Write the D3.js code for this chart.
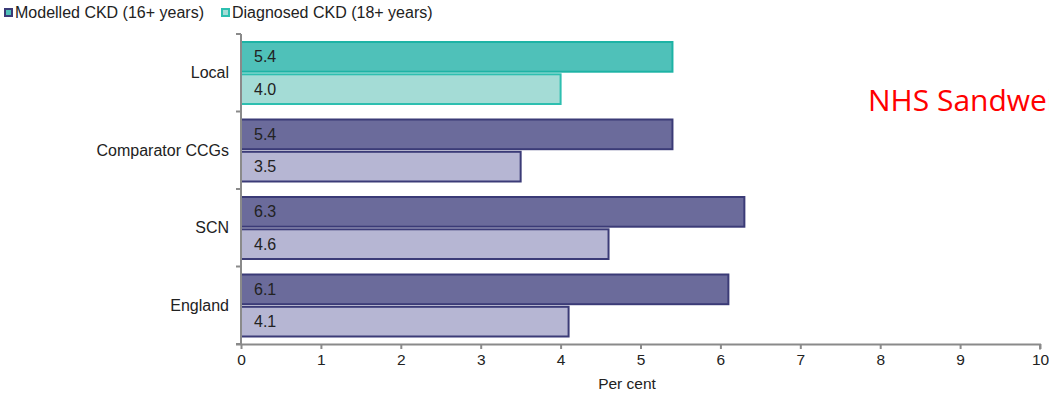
<!DOCTYPE html>
<html>
<head>
<meta charset="utf-8">
<script src="https://cdn.jsdelivr.net/npm/d3@7"></script>
<style>
  html, body { margin: 0; padding: 0; background: #fff; overflow: hidden; }
  svg { display: block; font-family: "Liberation Sans", Arial, sans-serif; }
</style>
</head>
<body>
<svg id="chart" width="1049" height="396"></svg>
<script>
// Areas shown on the chart, top to bottom
const categories = ["Local", "Comparator CCGs", "SCN", "England"];
// Modelled CKD prevalence, people aged 16+ (per cent)
const modelled = [5.4, 5.4, 6.3, 6.1];
// Diagnosed CKD prevalence (QOF register), people aged 18+ (per cent)
const diagnosed = [4.0, 3.5, 4.6, 4.1];
const seriesNames = ["Modelled CKD (16+ years)", "Diagnosed CKD (18+ years)"];
const xTicks = [0, 1, 2, 3, 4, 5, 6, 7, 8, 9, 10];
const orgName = "NHS Sandwell and West Birmingham";

const svg = d3.select("#chart");
const margin = { left: 241, right: 9, top: 34, bottom: 52 };
const W = 1049, H = 396;

const x = d3.scaleLinear().domain([0, 10]).range([margin.left, W - margin.right]);
const y = d3.scaleBand().domain(categories).range([margin.top, H - margin.bottom]);
const inner = d3.scaleBand().domain([0, 1]).range([8, y.bandwidth() - 7.5]).paddingInner(0.08);

// Fill/stroke per series; the local area is highlighted in teal
const style = (cat, s) => {
  if (cat === "Local") {
    return s === 0 ? { fill: "#4fc1b9", stroke: "#1db3a5" } : { fill: "#a4dcd6", stroke: "#2dbfb0" };
  }
  return s === 0 ? { fill: "#6b6b9b", stroke: "#3b3b77" } : { fill: "#b6b6d3", stroke: "#3b3b77" };
};

const rows = [];
categories.forEach((c, i) => {
  rows.push({ cat: c, s: 0, v: modelled[i] });
  rows.push({ cat: c, s: 1, v: diagnosed[i] });
});

const g = svg.append("g");

g.selectAll("rect.bar").data(rows).join("rect")
  .attr("class", "bar")
  .attr("x", x(0))
  .attr("y", d => y(d.cat) + inner(d.s))
  .attr("width", d => x(d.v) - x(0))
  .attr("height", inner.bandwidth())
  .attr("fill", d => style(d.cat, d.s).fill)
  .attr("stroke", d => style(d.cat, d.s).stroke)
  .attr("stroke-width", 2);

g.selectAll("text.val").data(rows).join("text")
  .attr("class", "val")
  .attr("x", x(0) + 13)
  .attr("y", d => y(d.cat) + inner(d.s) + inner.bandwidth() / 2)
  .attr("dy", "0.35em")
  .attr("font-size", 16)
  .attr("fill", "#222")
  .text(d => d.v.toFixed(1));

// Axes
const axisColor = "#8a8a8a";
const xAxis = svg.append("g")
  .attr("transform", `translate(0,${H - margin.bottom})`)
  .call(d3.axisBottom(x).tickValues(xTicks).tickFormat(d3.format("d")).tickSizeOuter(5).tickSizeInner(5));
xAxis.select(".domain").attr("stroke", axisColor).attr("stroke-width", 2)
  .attr("d", `M${x(0) - 5},0.5H${x(10)}V5.5`);
xAxis.selectAll(".tick line").attr("stroke", axisColor).attr("stroke-width", 2);
xAxis.selectAll(".tick text").attr("font-size", 15.5).attr("fill", "#222")
  .attr("font-family", "Liberation Sans, Arial, sans-serif").attr("y", 10);

const yTickPos = categories.map(c => y(c)).concat([H - margin.bottom]);
const yAxisG = svg.append("g");
yAxisG.append("line")
  .attr("x1", x(0)).attr("x2", x(0))
  .attr("y1", margin.top).attr("y2", H - margin.bottom)
  .attr("stroke", axisColor).attr("stroke-width", 2);
yAxisG.selectAll("line.tk").data(yTickPos).join("line")
  .attr("class", "tk")
  .attr("x1", x(0) - 5).attr("x2", x(0))
  .attr("y1", d => d).attr("y2", d => d)
  .attr("stroke", axisColor).attr("stroke-width", 2);
yAxisG.selectAll("text").data(categories).join("text")
  .attr("x", 229)
  .attr("y", d => y(d) + y.bandwidth() / 2)
  .attr("dy", "0.35em")
  .attr("text-anchor", "end")
  .attr("font-size", 16)
  .attr("fill", "#222")
  .text(d => d);

svg.append("text")
  .attr("x", 627).attr("y", 389)
  .attr("text-anchor", "middle")
  .attr("font-size", 15.5)
  .attr("fill", "#222")
  .text("Per cent");

// Legend
const legend = svg.append("g").attr("transform", "translate(4,8)");
const legendItems = [
  { name: seriesNames[0], fill: "#4fc1b9", stroke: "#3b3b77", x: 0 },
  { name: seriesNames[1], fill: "#a4dcd6", stroke: "#2dbfb0", x: 217 }
];
const li = legend.selectAll("g").data(legendItems).join("g")
  .attr("transform", d => `translate(${d.x},0)`);
li.append("rect").attr("x", 1).attr("y", 1).attr("width", 7).attr("height", 7)
  .attr("fill", d => d.fill).attr("stroke", d => d.stroke).attr("stroke-width", 2);
li.append("text").attr("x", 11).attr("y", 4.5).attr("dy", "0.35em")
  .attr("font-size", 16).attr("fill", "#222").text(d => d.name);

// Organisation name
svg.append("text")
  .attr("x", 868).attr("y", 111)
  .attr("font-family", "Open Sans, Liberation Sans, sans-serif")
  .attr("font-size", 30)
  .attr("fill", "#ff0000")
  .text(orgName);
</script>
</body>
</html>
